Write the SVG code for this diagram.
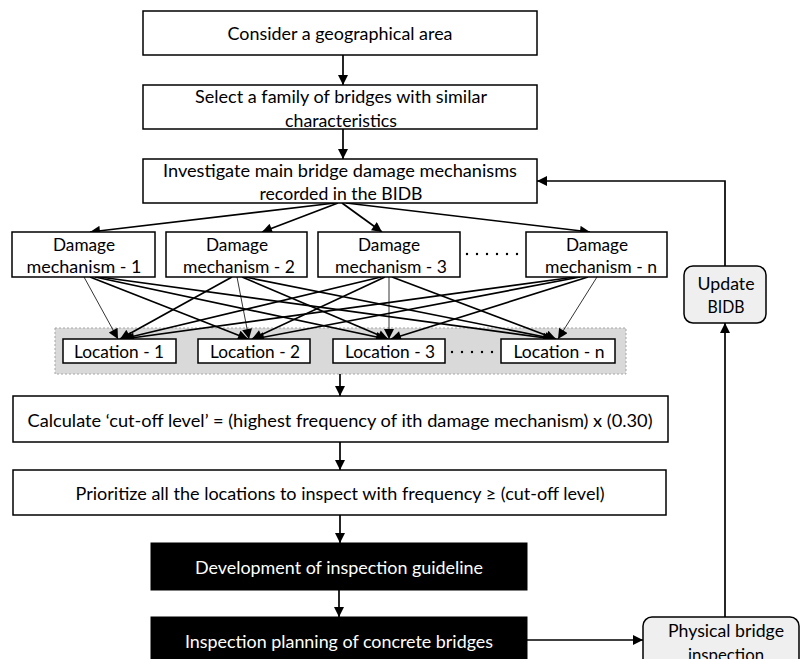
<svg xmlns="http://www.w3.org/2000/svg" width="801" height="659" viewBox="0 0 801 659">
  <style>
    text { font-family: Lato, "Open Sans", "Liberation Sans", sans-serif; font-size: 17.5px; fill: #000; text-anchor: middle; }
    .box { fill: #fff; stroke: #000; stroke-width: 1.5; }
    .dark { fill: #000; stroke: #000; stroke-width: 1; }
    .dark-text { fill: #fff; }
    .soft { fill: #efefef; stroke: #000; stroke-width: 1.5; }
    .band { fill: #d9d9d9; stroke: #a6a6a6; stroke-width: 1; stroke-dasharray: 2 2; }
    .link { fill: none; stroke: #000; stroke-width: 1.7; marker-end: url(#arrow); }
    .thin { fill: none; stroke: #000; stroke-width: 0.8; marker-end: url(#arrow); }
    .dots { fill: none; stroke: #000; stroke-width: 2.4; stroke-linecap: round; stroke-dasharray: 0 10; }
  </style>
  <defs>
    <marker id="arrow" viewBox="0 0 10 10" refX="10" refY="5" markerWidth="11" markerHeight="10" markerUnits="userSpaceOnUse" orient="auto">
      <path d="M0,0 L10,5 L0,10 Z" fill="#000"/>
    </marker>
  </defs>

  <rect width="801" height="659" fill="#fff"/>

  <!-- grey band behind the location boxes -->
  <rect id="location-band" class="band" x="55" y="328" width="571" height="46"/>

  <g id="connectors">
    <!-- main vertical flow -->
    <line class="link" x1="343" y1="55" x2="343" y2="85"/>
    <line class="link" x1="343" y1="129" x2="343" y2="159"/>
    <!-- fan-out to damage mechanisms -->
    <line class="link" x1="335" y1="203" x2="90" y2="232"/>
    <line class="link" x1="338" y1="203" x2="262" y2="232"/>
    <line class="link" x1="342" y1="203" x2="382" y2="232"/>
    <line class="link" x1="346" y1="203" x2="590" y2="232"/>
    <!-- damage mechanism 1 to locations -->
    <line class="thin" x1="84" y1="277" x2="118" y2="339"/>
    <line class="link" x1="90" y1="277" x2="248" y2="339"/>
    <line class="link" x1="95" y1="277" x2="386" y2="339"/>
    <line class="link" x1="100" y1="277" x2="553" y2="339"/>
    <!-- damage mechanism 2 to locations -->
    <line class="link" x1="232" y1="277" x2="120" y2="339"/>
    <line class="thin" x1="237" y1="277" x2="249" y2="339"/>
    <line class="link" x1="242" y1="277" x2="388" y2="339"/>
    <line class="link" x1="245" y1="277" x2="555" y2="339"/>
    <!-- damage mechanism 3 to locations -->
    <line class="link" x1="381" y1="277" x2="122" y2="339"/>
    <line class="link" x1="385" y1="277" x2="252" y2="339"/>
    <line class="thin" x1="389" y1="277" x2="389" y2="339"/>
    <line class="link" x1="392" y1="277" x2="556" y2="339"/>
    <!-- damage mechanism n to locations -->
    <line class="link" x1="575" y1="277" x2="124" y2="339"/>
    <line class="link" x1="580" y1="277" x2="254" y2="339"/>
    <line class="link" x1="588" y1="277" x2="391" y2="339"/>
    <line class="thin" x1="597" y1="277" x2="558" y2="339"/>
    <!-- lower flow -->
    <line class="link" x1="340" y1="374" x2="340" y2="396"/>
    <line class="link" x1="340" y1="442" x2="340" y2="470"/>
    <line class="link" x1="340" y1="515" x2="340" y2="543"/>
    <line class="link" x1="339" y1="590" x2="339" y2="617"/>
    <line class="link" x1="527" y1="640" x2="643" y2="640"/>
    <!-- feedback loop -->
    <line class="link" x1="725" y1="617" x2="725" y2="323"/>
    <polyline class="link" points="725,266 725,181 537,181"/>
    <!-- ellipsis dots -->
    <line class="dots" x1="467" y1="254" x2="520" y2="254"/>
    <line class="dots" x1="452" y1="352" x2="495" y2="352"/>
  </g>

  <g id="area">
    <rect class="box" x="143" y="11" width="394" height="44"/>
    <text x="340" y="40" textLength="225" lengthAdjust="spacingAndGlyphs">Consider a geographical area</text>
  </g>

  <g id="family">
    <rect class="box" x="143" y="85" width="394" height="44"/>
    <text x="341" y="103" textLength="292" lengthAdjust="spacingAndGlyphs">Select a family of bridges with similar</text>
    <text x="341" y="127" textLength="112" lengthAdjust="spacingAndGlyphs">characteristics</text>
  </g>

  <g id="investigate">
    <rect class="box" x="143" y="159" width="394" height="44"/>
    <text x="340" y="177" textLength="354" lengthAdjust="spacingAndGlyphs">Investigate main bridge damage mechanisms</text>
    <text x="341" y="200" textLength="163" lengthAdjust="spacingAndGlyphs">recorded in the BIDB</text>
  </g>

  <g id="damage-1">
    <rect class="box" x="12" y="232" width="143" height="45"/>
    <text x="84" y="251" textLength="62" lengthAdjust="spacingAndGlyphs">Damage</text>
    <text x="84" y="273" textLength="115" lengthAdjust="spacingAndGlyphs">mechanism - 1</text>
  </g>

  <g id="damage-2">
    <rect class="box" x="166" y="232" width="141" height="45"/>
    <text x="237" y="251" textLength="62" lengthAdjust="spacingAndGlyphs">Damage</text>
    <text x="239" y="273" textLength="112" lengthAdjust="spacingAndGlyphs">mechanism - 2</text>
  </g>

  <g id="damage-3">
    <rect class="box" x="318" y="232" width="142" height="45"/>
    <text x="389" y="251" textLength="62" lengthAdjust="spacingAndGlyphs">Damage</text>
    <text x="391" y="273" textLength="112" lengthAdjust="spacingAndGlyphs">mechanism - 3</text>
  </g>

  <g id="damage-n">
    <rect class="box" x="526" y="232" width="141" height="45"/>
    <text x="597" y="251" textLength="62" lengthAdjust="spacingAndGlyphs">Damage</text>
    <text x="601" y="273" textLength="112" lengthAdjust="spacingAndGlyphs">mechanism - n</text>
  </g>

  <g id="location-1">
    <rect class="box" x="63" y="339" width="113" height="24"/>
    <text x="119" y="358" textLength="90" lengthAdjust="spacingAndGlyphs">Location - 1</text>
  </g>

  <g id="location-2">
    <rect class="box" x="198" y="339" width="112" height="24"/>
    <text x="255" y="358" textLength="90" lengthAdjust="spacingAndGlyphs">Location - 2</text>
  </g>

  <g id="location-3">
    <rect class="box" x="333" y="339" width="112" height="24"/>
    <text x="390" y="358" textLength="90" lengthAdjust="spacingAndGlyphs">Location - 3</text>
  </g>

  <g id="location-n">
    <rect class="box" x="501" y="339" width="114" height="24"/>
    <text x="559" y="358" textLength="91" lengthAdjust="spacingAndGlyphs">Location - n</text>
  </g>

  <g id="cut-off">
    <rect class="box" x="13" y="396" width="655" height="46"/>
    <text x="340" y="427" textLength="625" lengthAdjust="spacingAndGlyphs">Calculate ‘cut-off level’ = (highest frequency of ith damage mechanism) x (0.30)</text>
  </g>

  <g id="prioritize">
    <rect class="box" x="13" y="470" width="653" height="45"/>
    <text x="340" y="500" textLength="529" lengthAdjust="spacingAndGlyphs">Prioritize all the locations to inspect with frequency ≥ (cut-off level)</text>
  </g>

  <g id="guideline">
    <rect class="dark" x="151" y="543" width="376" height="47"/>
    <text class="dark-text" x="339" y="574" textLength="288" lengthAdjust="spacingAndGlyphs">Development of inspection guideline</text>
  </g>

  <g id="planning">
    <rect class="dark" x="151" y="617" width="376" height="50"/>
    <text class="dark-text" x="339" y="648" textLength="308" lengthAdjust="spacingAndGlyphs">Inspection planning of concrete bridges</text>
  </g>

  <g id="physical-inspection">
    <rect class="soft" x="643" y="617" width="156" height="60" rx="9" ry="9"/>
    <text x="726" y="637" textLength="116" lengthAdjust="spacingAndGlyphs">Physical bridge</text>
    <text x="726" y="661" textLength="76" lengthAdjust="spacingAndGlyphs">inspection</text>
  </g>

  <g id="update-bidb">
    <rect class="soft" x="684" y="266" width="82" height="57" rx="9" ry="9"/>
    <text x="726" y="290" textLength="57" lengthAdjust="spacingAndGlyphs">Update</text>
    <text x="726" y="313" textLength="37" lengthAdjust="spacingAndGlyphs">BIDB</text>
  </g>
</svg>
